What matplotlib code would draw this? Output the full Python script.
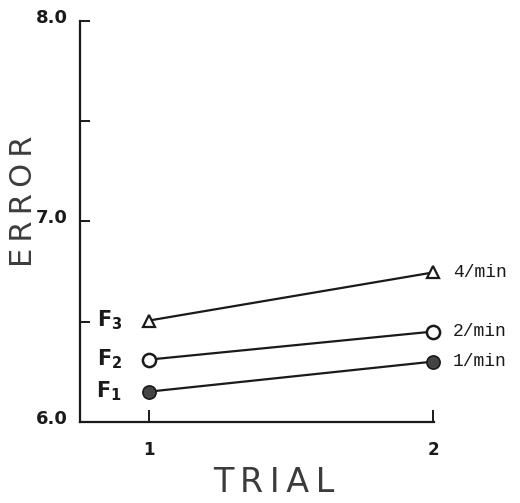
import matplotlib
matplotlib.use("Agg")
import matplotlib.pyplot as plt
import matplotlib.transforms as mtransforms

plt.rcParams['mathtext.fontset'] = 'dejavusans'

trials = [1, 2]
f1_error = [6.15, 6.30]
f2_error = [6.31, 6.45]
f3_error = [6.505, 6.745]
left_labels = [r'$\mathbf{F_1}$', r'$\mathbf{F_2}$', r'$\mathbf{F_3}$']
right_labels = ['1/min', '2/min', '4/min']
y_major = [6.0, 7.0, 8.0]
y_minor = [6.5, 7.5]

fig = plt.figure(figsize=(5.2, 5.03), dpi=100)
ax = fig.add_axes([80 / 520, 81.3 / 503, 354 / 520, 400.7 / 503])

ink = '#1a1a1a'
ax.plot(trials, f3_error, color=ink, lw=1.6, marker='^', ms=8,
        mfc='white', mec=ink, mew=1.6, zorder=3, clip_on=False)
ax.plot(trials, f2_error, color=ink, lw=1.6, marker='o', ms=9.5,
        mfc='white', mec=ink, mew=1.8, zorder=3, clip_on=False)
ax.plot(trials, f1_error, color=ink, lw=1.6, marker='o', ms=9.5,
        mfc='#444444', mec=ink, mew=1.2, zorder=3, clip_on=False)

ax.set_xlim(0.757, 2.003)
ax.set_ylim(6.0, 8.0)
for s in ['top', 'right']:
    ax.spines[s].set_visible(False)
for s in ['left', 'bottom']:
    ax.spines[s].set_linewidth(1.6)
    ax.spines[s].set_color(ink)

ax.set_yticks(y_major)
ax.set_yticks(y_minor, minor=True)
ax.set_yticklabels(['%.1f' % v for v in y_major], fontsize=13,
                   fontweight='bold', color=ink)
ax.tick_params(axis='y', which='both', direction='in', length=7,
               width=1.4, color=ink, pad=9)
up = mtransforms.ScaledTranslation(0, 5 / 100, fig.dpi_scale_trans)
for lab in ax.get_yticklabels():
    lab.set_transform(lab.get_transform() + up)

ax.set_xticks(trials)
ax.set_xticklabels(['1', '2'], fontsize=12, fontweight='bold', color=ink)
ax.tick_params(axis='x', direction='in', length=9, width=1.4, color=ink, pad=14)

# left series labels and right rate labels
for lab, vals in zip(left_labels, [f1_error, f2_error, f3_error]):
    ax.text(0.86, vals[0], lab, fontsize=15, ha='center', va='center',
            color=ink)
for lab, vals in zip(right_labels, [f1_error, f2_error, f3_error]):
    ax.text(2.07, vals[1], lab, fontsize=13, ha='left', va='center',
            family='Liberation Mono', color=ink, clip_on=False)

thin = '\u2009'
fig.text(24 / 520, 1 - 201 / 503, thin.join('ERROR'), rotation=90, fontsize=22,
         ha='center', va='center', color='#3c3c3c', family='DejaVu Sans')
fig.text(274 / 520, 1 - 483 / 503, thin.join('TRIAL'), fontsize=24,
         ha='center', va='center', color='#3c3c3c', family='DejaVu Sans')

fig.savefig('out.png', dpi=100)
